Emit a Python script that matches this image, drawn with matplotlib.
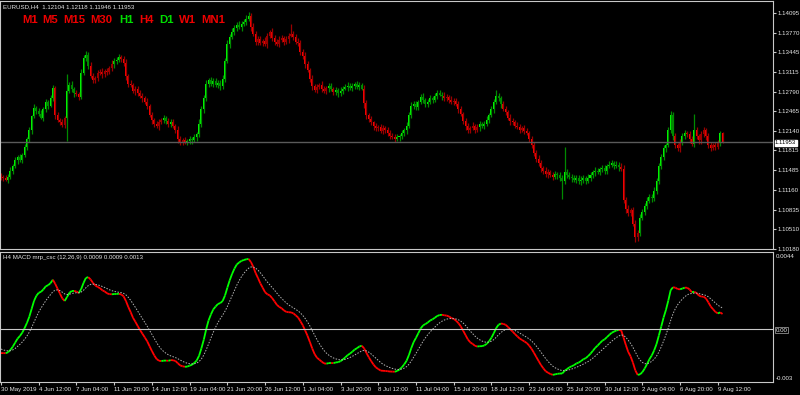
import numpy as np
import matplotlib
matplotlib.use("Agg")
import matplotlib.pyplot as plt
from matplotlib.collections import LineCollection

plt.rcParams['font.family'] = ['Liberation Sans', 'DejaVu Sans']

# EURUSD H4 closes, points above 1.1000, 30 May 20:00 .. 9 Aug 20:00
close_pts = [
  137, 135, 133, 138, 148, 156, 165, 170, 166, 174,
  188, 200, 215, 238, 252, 247, 242, 236, 250, 262,
  256, 268, 285, 240, 232, 228, 224, 235, 280, 290,
  283, 276, 275, 270, 310, 335, 340, 322, 305, 298,
  302, 310, 312, 308, 314, 311, 318, 325, 330, 332,
  336, 333, 326, 305, 292, 290, 280, 284, 276, 272,
  268, 262, 255, 240, 232, 225, 222, 228, 232, 235,
  230, 226, 229, 222, 215, 200, 195, 198, 196, 197,
  200, 198, 203, 208, 225, 250, 268, 292, 298, 292,
  296, 290, 294, 288, 300, 330, 358, 370, 378, 385,
  390, 386, 392, 395, 400, 405, 386, 375, 362, 366,
  360, 363, 358, 372, 378, 368, 362, 358, 365, 368,
  362, 366, 372, 375, 370, 362, 360, 345, 338, 325,
  315, 300, 288, 282, 286, 290, 284, 280, 285, 288,
  283, 278, 282, 276, 280, 284, 286, 289, 285, 288,
  291, 287, 290, 284, 260, 240, 233, 228, 222, 218,
  220, 214, 218, 215, 210, 206, 204, 200, 203, 205,
  210, 215, 222, 240, 255, 258, 254, 262, 270, 265,
  258, 262, 268, 266, 272, 276, 274, 272, 268, 270,
  266, 262, 264, 258, 250, 242, 230, 222, 215, 218,
  222, 216, 220, 225, 222, 226, 232, 240, 250, 262,
  272, 268, 258, 250, 245, 236, 230, 228, 222, 220,
  216, 218, 214, 210, 200, 190, 178, 168, 160, 152,
  148, 142, 145, 140, 138, 142, 140, 135, 130, 145,
  140, 138, 135, 132, 136, 130, 133, 135, 130, 136,
  140, 145, 148, 146, 150, 152, 148, 155, 158, 160,
  156, 158, 154, 150, 100, 85, 78, 82, 60, 38,
  45, 70, 80, 90, 98, 105, 102, 115, 130, 155,
  170, 185, 190, 215, 240, 205, 190, 185, 195, 205,
  210, 208, 200, 192, 215, 205, 198, 208, 215, 205,
  190, 185, 190, 188, 194, 210.4, 195.3,
]
# wick lengths above / below the body, points
wick_up = [
  4, 3, 5, 4, 6, 3, 5, 4, 6, 3,
  5, 4, 6, 3, 7, 4, 5, 6, 3, 5,
  4, 6, 5, 3, 5, 4, 6, 4, 29, 5,
  6, 4, 5, 3, 6, 5, 7, 4, 6, 5,
  3, 5, 4, 6, 3, 5, 4, 6, 5, 4,
  6, 4, 5, 7, 4, 6, 3, 5, 4, 6,
  5, 4, 6, 3, 5, 4, 6, 5, 4, 5,
  3, 6, 4, 5, 4, 7, 5, 4, 6, 3,
  5, 4, 6, 4, 8, 6, 5, 7, 4, 6,
  5, 6, 4, 5, 6, 5, 7, 4, 6, 5,
  4, 6, 5, 4, 6, 6, 5, 7, 4, 6,
  5, 4, 6, 5, 4, 6, 5, 4, 6, 5,
  4, 6, 5, 17, 5, 4, 6, 5, 4, 6,
  5, 4, 6, 3, 5, 4, 6, 5, 4, 5,
  6, 4, 5, 3, 6, 4, 5, 6, 4, 5,
  4, 6, 5, 4, 6, 5, 4, 6, 3, 5,
  4, 6, 5, 4, 5, 6, 4, 5, 6, 4,
  5, 4, 6, 5, 7, 5, 6, 4, 5, 6,
  4, 5, 6, 4, 5, 6, 5, 4, 6, 5,
  4, 6, 5, 4, 6, 5, 4, 6, 5, 4,
  6, 4, 5, 6, 4, 5, 6, 4, 6, 5,
  10, 5, 4, 6, 5, 4, 6, 5, 4, 6,
  5, 4, 6, 5, 4, 6, 5, 4, 6, 5,
  4, 6, 5, 4, 6, 5, 4, 6, 5, 42,
  6, 5, 4, 6, 5, 4, 6, 5, 4, 6,
  5, 4, 6, 5, 4, 6, 5, 4, 6, 5,
  4, 6, 5, 6, 8, 5, 6, 4, 5, 6,
  5, 6, 4, 5, 6, 5, 4, 6, 5, 6,
  5, 6, 4, 6, 7, 6, 5, 4, 6, 5,
  6, 4, 5, 6, 27, 5, 4, 6, 5, 4,
  6, 5, 4, 6, 5, 4, 1.4,
]
wick_dn = [
  5, 4, 3, 6, 4, 5, 3, 6, 4, 5,
  3, 5, 4, 6, 3, 5, 4, 3, 6, 4,
  5, 3, 4, 6, 4, 5, 3, 5, 38, 4,
  5, 6, 4, 5, 3, 4, 5, 6, 4, 5,
  4, 5, 3, 6, 4, 5, 3, 4, 6, 5,
  3, 5, 4, 6, 5, 3, 4, 6, 5, 4,
  6, 4, 5, 3, 6, 5, 4, 6, 3, 5,
  4, 5, 6, 3, 5, 6, 4, 5, 3, 6,
  4, 5, 3, 6, 4, 5, 6, 4, 5, 3,
  6, 4, 5, 6, 4, 5, 3, 6, 4, 5,
  5, 3, 6, 4, 5, 3, 6, 4, 5, 6,
  4, 5, 3, 6, 4, 5, 6, 4, 5, 3,
  5, 4, 6, 3, 5, 4, 6, 5, 4, 6,
  4, 5, 6, 4, 5, 3, 6, 4, 5, 6,
  3, 5, 4, 6, 4, 5, 3, 6, 4, 5,
  5, 4, 6, 3, 8, 6, 4, 5, 6, 4,
  5, 3, 6, 4, 5, 6, 4, 5, 3, 6,
  4, 5, 6, 3, 5, 4, 6, 5, 3, 4,
  5, 4, 3, 6, 4, 5, 3, 6, 4, 5,
  6, 4, 5, 3, 6, 4, 5, 6, 4, 5,
  3, 5, 4, 6, 3, 5, 4, 5, 3, 6,
  4, 5, 6, 3, 5, 4, 6, 5, 4, 3,
  5, 4, 6, 3, 5, 4, 6, 5, 4, 6,
  5, 4, 6, 3, 5, 4, 6, 5, 29, 4,
  5, 4, 6, 3, 5, 4, 6, 5, 4, 3,
  5, 4, 6, 3, 5, 4, 6, 5, 3, 4,
  5, 4, 6, 3, 6, 8, 5, 6, 4, 8,
  6, 5, 4, 6, 5, 3, 6, 4, 5, 4,
  5, 4, 6, 3, 5, 6, 4, 5, 6, 4,
  5, 4, 6, 3, 5, 4, 6, 5, 4, 6,
  5, 4, 3, 6, 4, 5, 0.7,
]
open_first = 1.1140

price_ticks = [1.14095, 1.13770, 1.13445, 1.13115, 1.12790, 1.12465, 1.12140,
               1.11815, 1.11485, 1.11160, 1.10835, 1.10510, 1.10180]
time_labels = ['30 May 2019', '4 Jun 12:00', '7 Jun 04:00', '11 Jun 20:00',
               '14 Jun 12:00', '19 Jun 04:00', '21 Jun 20:00', '26 Jun 12:00',
               '1 Jul 04:00', '3 Jul 20:00', '8 Jul 12:00', '11 Jul 04:00',
               '15 Jul 20:00', '18 Jul 12:00', '23 Jul 04:00', '25 Jul 20:00',
               '30 Jul 12:00', '2 Aug 04:00', '6 Aug 20:00', '9 Aug 12:00']
tf_names = ['M1', 'M5', 'M15', 'M30', 'H1', 'H4', 'D1', 'W1', 'MN1']
tf_x = [22, 42, 63, 90, 119, 139, 159, 179, 201]
tf_on = [False, False, False, False, True, False, True, False, False]
bid = 1.11953

close = 1.1 + np.array(close_pts) / 10000
opn = np.r_[open_first, close[:-1]]
high = np.maximum(opn, close) + np.array(wick_up) / 10000
low = np.minimum(opn, close) - np.array(wick_dn) / 10000
n = len(close)
idx = np.arange(n)

# MACD 12,26,9 (state carried in from bars before the window)
ema_f, ema_s, sig = 1.1150, 1.11635, -0.00107
af, as_, asg = 2 / 13, 2 / 27, 2 / 10
macd = np.zeros(n)
signal = np.zeros(n)
for i in range(n):
  ema_f += af * (close[i] - ema_f)
  ema_s += as_ * (close[i] - ema_s)
  macd[i] = ema_f - ema_s
  sig += asg * (macd[i] - sig)
  signal[i] = sig
up = np.r_[False, np.diff(macd) > 0]

GRN, DGRN = '#00ff00', '#008a00'
RED, DRED = '#ff0000', '#9a0000'
LINE = '#c8c8c8'
TXT = '#e6e6e6'

W, H = 800, 395
fig = plt.figure(figsize=(8, 3.95), dpi=100, facecolor='black')
def box(x0, y0, x1, y1):
  return [x0 / W, 1 - y1 / H, (x1 - x0) / W, (y1 - y0) / H]
ax = fig.add_axes(box(0, 1, 773, 249))
ax2 = fig.add_axes(box(0, 252, 773, 382))

pxbar = 2.358
xl = (-1 / pxbar, (773 - 1) / pxbar)
for a in (ax, ax2):
  a.set_facecolor('black')
  a.set_xlim(*xl)
  for s in a.spines.values():
    s.set_color(LINE)
    s.set_linewidth(0.8)

# candles, coloured by MACD direction
bull = close >= opn
body_col = [(GRN if b else DGRN) if u else (RED if not b else DRED) for u, b in zip(up, bull)]
wick_col = [DGRN if u else DRED for u in up]
ax.vlines(idx, low, high, colors=wick_col, linewidth=0.9)
ax.bar(idx, np.maximum(np.abs(close - opn), 0.00004), bottom=np.minimum(opn, close),
       width=0.85, color=body_col, linewidth=0)
ax.axhline(bid, color='#5a5a5a', linewidth=1)
ax.set_ylim(1.10180, 1.14294)
ax.yaxis.tick_right()
ax.set_yticks(price_ticks)
ax.set_yticklabels(['%.5f' % p for p in price_ticks])
ax.tick_params(axis='y', length=2.5, color=LINE, labelsize=4.4, labelcolor=TXT, pad=1)
ax.set_xticks([])
fig.text(775 / W, 1 - 143 / H, '%.5f' % bid, fontsize=4.2, color='black',
         va='center', ha='left',
         bbox=dict(boxstyle='square,pad=0.08', fc='white', ec='white'))

# macd
pts = np.column_stack([idx, macd])
segs = np.stack([pts[:-1], pts[1:]], axis=1)
seg_col = [GRN if u else RED for u in up[1:]]
ax2.add_collection(LineCollection(segs, colors=seg_col, linewidths=1.3))
ax2.plot(idx, signal, color='#b4b4b4', linewidth=0.7, linestyle=(0, (1.5, 1.5)))
ax2.axhline(0, color=LINE, linewidth=0.8)
ax2.set_ylim(-0.0030, 0.0044)
ax2.set_yticks([])
ax2.set_xticks(idx[::16][:len(time_labels)])
ax2.set_xticklabels(time_labels)
ax2.tick_params(axis='x', length=2.5, color=LINE, labelsize=4.4, labelcolor=TXT, pad=1)
for lab in ax2.get_xticklabels():
  lab.set_ha('left')

fs = 4.4
fig.text(776 / W, 1 - 256 / H, '0.0044', fontsize=fs, color=TXT, va='center')
fig.text(776 / W, 1 - 330 / H, '0.00', fontsize=fs, color=TXT, va='center',
         bbox=dict(boxstyle='square,pad=0.1', fc='black', ec='#909090', lw=0.6))
fig.text(776 / W, 1 - 378 / H, '-0.003', fontsize=fs, color=TXT, va='center')

fig.text(3 / W, 1 - 7 / H, 'EURUSD,H4  1.12104 1.12118 1.11946 1.11953',
         fontsize=fs, color=TXT, va='center')
fig.text(3 / W, 1 - 258 / H, 'H4 MACD mrp_csc (12,26,9) 0.0009 0.0009 0.0013',
         fontsize=fs, color=TXT, va='center')
for name, x, on in zip(tf_names, tf_x, tf_on):
  fig.text(x / W, 1 - 20 / H, name, fontsize=8.2, fontweight='bold',
           color='#00dd00' if on else '#ee0000', va='center')

fig.savefig('out.png', dpi=100, facecolor='black')
